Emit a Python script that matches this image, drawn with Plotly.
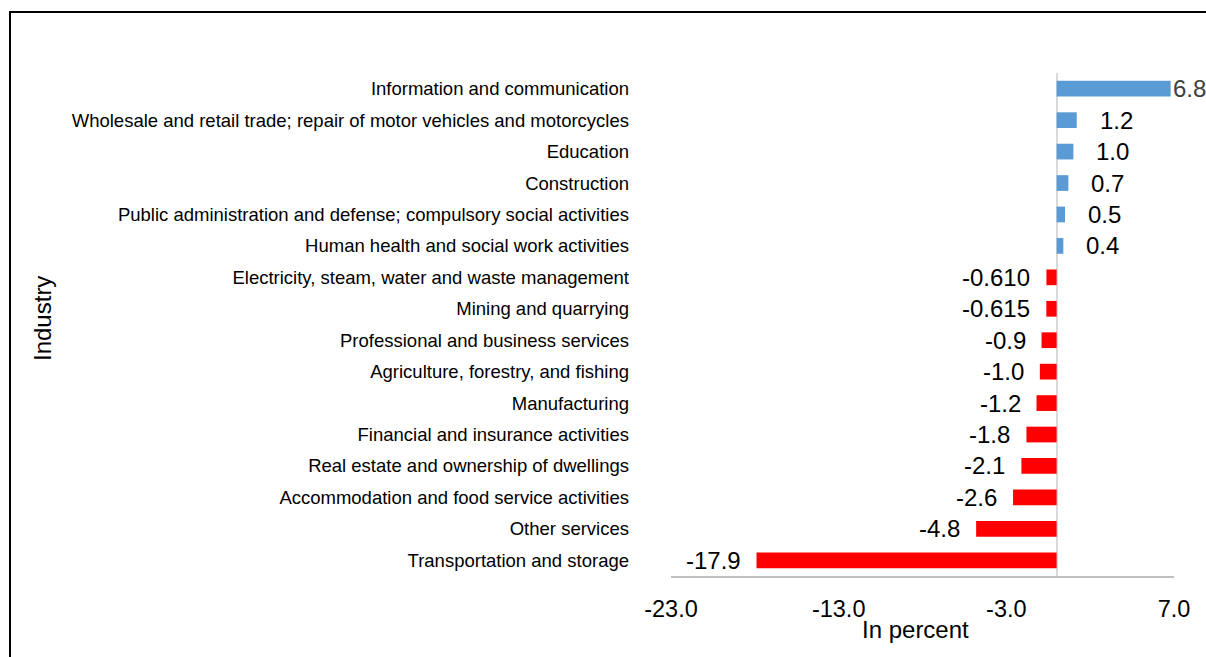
import plotly.graph_objects as go

industries = [
    "Information and communication",
    "Wholesale and retail trade; repair of motor vehicles and motorcycles",
    "Education",
    "Construction",
    "Public administration and defense; compulsory social activities",
    "Human health and social work activities",
    "Electricity, steam, water and waste management",
    "Mining and quarrying",
    "Professional and business services",
    "Agriculture, forestry, and fishing",
    "Manufacturing",
    "Financial and insurance activities",
    "Real estate and ownership of dwellings",
    "Accommodation and food service activities",
    "Other services",
    "Transportation and storage",
]
values = [6.8, 1.2, 1.0, 0.7, 0.5, 0.4, -0.610, -0.615, -0.9, -1.0, -1.2, -1.8, -2.1, -2.6, -4.8, -17.9]
value_labels = ["6.8", "1.2", "1.0", "0.7", "0.5", "0.4", "-0.610", "-0.615", "-0.9", "-1.0",
                "-1.2", "-1.8", "-2.1", "-2.6", "-4.8", "-17.9"]
x_ticks = [-23, -13, -3, 7]
x_tick_labels = ["-23.0", "-13.0", "-3.0", "7.0"]

W, H = 1206, 657
ML, MR, MT, MB = 671, 32, 73, 81
PW, PH = W - ML - MR, H - MT - MB
FONT = "Liberation Sans, Arial, sans-serif"

colors = ["#5B9BD5" if v >= 0 else "#FF0000" for v in values]

fig = go.Figure(go.Bar(
    x=values, y=industries, orientation="h",
    marker=dict(color=colors, line=dict(width=0)),
    width=0.5,
    hoverinfo="skip",
))

annotations = []
for i, (v, lab, cat) in enumerate(zip(values, value_labels, industries)):
    if v >= 0:
        shift = 0 if i == 0 else 21
        annotations.append(dict(x=v, y=cat, xref="x", yref="y", text=lab, showarrow=False,
                                xanchor="left", xshift=shift,
                                font=dict(size=24, color="#404040" if i == 0 else "#000000", family=FONT)))
    else:
        annotations.append(dict(x=v, y=cat, xref="x", yref="y", text=lab, showarrow=False,
                                xanchor="right", xshift=-14,
                                font=dict(size=24, color="#000000", family=FONT)))

# axis titles
annotations.append(dict(text="In percent", xref="paper", yref="paper",
                        x=(915 - ML) / PW, y=-(629 - (MT + PH)) / PH,
                        xanchor="center", yanchor="middle", showarrow=False,
                        font=dict(size=24, color="#000000", family=FONT)))
annotations.append(dict(text="Industry", xref="paper", yref="paper",
                        x=(42 - ML) / PW, y=(MT + PH - 319) / PH, textangle=-90,
                        xanchor="center", yanchor="middle", showarrow=False,
                        font=dict(size=24, color="#000000", family=FONT)))

shapes = [dict(type="rect", xref="paper", yref="paper",
               x0=(10 - ML) / PW, x1=(1230 - ML) / PW,
               y0=(MT + PH - 680) / PH, y1=(MT + PH - 12) / PH,
               line=dict(color="#000000", width=2), fillcolor="rgba(0,0,0,0)", layer="below")]

fig.update_layout(
    width=W, height=H,
    margin=dict(l=ML, r=MR, t=MT, b=MB, autoexpand=False),
    paper_bgcolor="white", plot_bgcolor="white",
    showlegend=False,
    font=dict(family=FONT, color="#000000"),
    annotations=annotations,
    shapes=shapes,
    xaxis=dict(range=[-23, 7], tickvals=x_ticks, ticktext=x_tick_labels,
               showgrid=False, showline=True, linecolor="#BFBFBF", linewidth=2,
               zeroline=True, zerolinecolor="#D9D9D9", zerolinewidth=2,
               ticks="", tickfont=dict(size=23.5, color="#000000"),
               ticklabelstandoff=11),
    yaxis=dict(categoryorder="array", categoryarray=industries, autorange="reversed",
               showgrid=False, showline=False, zeroline=False, ticks="",
               tickfont=dict(size=18.5, color="#000000"),
               ticklabelstandoff=41),
)

fig.write_html(
    "out.html",
    config={"displayModeBar": False},
    post_script="document.body.style.margin='0';document.body.style.overflow='hidden';",
)
